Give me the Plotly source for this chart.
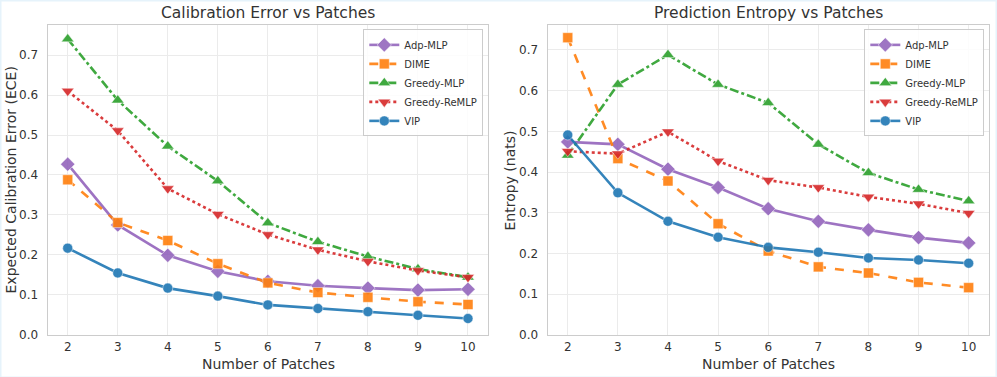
import plotly.graph_objects as go

patches = [2, 3, 4, 5, 6, 7, 8, 9, 10]
methods = ["Adp-MLP", "DIME", "Greedy-MLP", "Greedy-ReMLP", "VIP"]

ece_adp_mlp = [0.427, 0.275, 0.199, 0.159, 0.134, 0.123, 0.117, 0.112, 0.114]
ece_dime = [0.388, 0.281, 0.236, 0.178, 0.130, 0.106, 0.094, 0.083, 0.076]
ece_greedy_mlp = [0.740, 0.587, 0.472, 0.385, 0.280, 0.233, 0.196, 0.165, 0.144]
ece_greedy_remlp = [0.610, 0.511, 0.366, 0.302, 0.251, 0.213, 0.184, 0.161, 0.144]
ece_vip = [0.217, 0.155, 0.117, 0.097, 0.075, 0.066, 0.058, 0.049, 0.041]

ent_adp_mlp = [0.474, 0.468, 0.407, 0.362, 0.310, 0.279, 0.258, 0.239, 0.226]
ent_dime = [0.730, 0.433, 0.378, 0.273, 0.206, 0.167, 0.152, 0.129, 0.116]
ent_greedy_mlp = [0.441, 0.615, 0.688, 0.615, 0.570, 0.468, 0.398, 0.357, 0.329]
ent_greedy_remlp = [0.451, 0.445, 0.499, 0.427, 0.380, 0.362, 0.339, 0.322, 0.299]
ent_vip = [0.491, 0.349, 0.279, 0.240, 0.215, 0.203, 0.189, 0.184, 0.176]

colors = ["#9467bd", "#ff7f0e", "#2ca02c", "#d62728", "#1f77b4"]
symbols = ["diamond", "square", "triangle-up", "triangle-down", "circle"]
dashes = ["solid", "dash", "dashdot", "dot", "solid"]
sizes = [11, 10, 11, 11, 10]

W = 997
H_REF = 377      # reference picture height (positions below are in its pixels)
H_FIG = 385      # the captured page is 385px tall and is squeezed to 377
FONT = "DejaVu Sans"
TXT = "#333333"

fig = go.Figure()

ece_series = [ece_adp_mlp, ece_dime, ece_greedy_mlp, ece_greedy_remlp, ece_vip]
ent_series = [ent_adp_mlp, ent_dime, ent_greedy_mlp, ent_greedy_remlp, ent_vip]

for i, name in enumerate(methods):
    fig.add_trace(go.Scatter(
        x=patches, y=ece_series[i], name=name, mode="lines+markers",
        line=dict(color=colors[i], width=2.6, dash=dashes[i]),
        marker=dict(symbol=symbols[i], size=sizes[i], color=colors[i],
                    line=dict(width=0.8, color="rgba(255,255,255,0.6)")),
        opacity=0.9, xaxis="x", yaxis="y", legend="legend"))
for i, name in enumerate(methods):
    fig.add_trace(go.Scatter(
        x=patches, y=ent_series[i], name=name, mode="lines+markers",
        line=dict(color=colors[i], width=2.6, dash=dashes[i]),
        marker=dict(symbol=symbols[i], size=sizes[i], color=colors[i],
                    line=dict(width=0.8, color="rgba(255,255,255,0.6)")),
        opacity=0.9, xaxis="x2", yaxis="y2", legend="legend2"))

def px_x(p):
    return p / W

def px_y(p):
    return 1 - p / H_REF

axis_common = dict(
    showgrid=True, gridcolor="#ebebeb", gridwidth=1,
    showline=True, linecolor="#cccccc", linewidth=1.2, mirror=True,
    zeroline=False, ticks="", tickfont=dict(family=FONT, size=12, color=TXT),
)

ydom = [px_y(334), px_y(25)]
fig.update_layout(
    width=W, height=H_FIG,
    margin=dict(l=0, r=0, t=0, b=0),
    paper_bgcolor="white", plot_bgcolor="white",
    font=dict(family=FONT, color=TXT),
    xaxis=dict(domain=[px_x(47.7), px_x(488)], range=[1.6, 10.4],
               tickvals=patches, ticklabelstandoff=1, **axis_common),
    yaxis=dict(domain=ydom, range=[0, 0.775], tickvals=[0, 0.1, 0.2, 0.3, 0.4, 0.5, 0.6, 0.7],
               tickformat=".1f", ticklabelstandoff=6, anchor="x", **axis_common),
    xaxis2=dict(domain=[px_x(547.7), px_x(988.7)], range=[1.6, 10.4],
                tickvals=patches, anchor="y2", ticklabelstandoff=1, **axis_common),
    yaxis2=dict(domain=ydom, range=[0, 0.761], tickvals=[0, 0.1, 0.2, 0.3, 0.4, 0.5, 0.6, 0.7],
                tickformat=".1f", anchor="x2", ticklabelstandoff=6, **axis_common),
    legend=dict(x=px_x(483.3), y=px_y(29.3), xanchor="right", yanchor="top",
                bgcolor="rgba(255,255,255,0.85)", bordercolor="#cccccc", borderwidth=1,
                font=dict(family=FONT, size=10, color=TXT), itemwidth=30, tracegroupgap=0),
    legend2=dict(x=px_x(984.3), y=px_y(29.3), xanchor="right", yanchor="top",
                 bgcolor="rgba(255,255,255,0.85)", bordercolor="#cccccc", borderwidth=1,
                 font=dict(family=FONT, size=10, color=TXT), itemwidth=30, tracegroupgap=0),
    showlegend=True,
)

annots = [
    dict(text="Calibration Error vs Patches", x=px_x(268), y=px_y(13), size=15.5),
    dict(text="Prediction Entropy vs Patches", x=px_x(768), y=px_y(13), size=15.5),
    dict(text="Number of Patches", x=px_x(268), y=px_y(363), size=14),
    dict(text="Number of Patches", x=px_x(768), y=px_y(363), size=14),
]
for a in annots:
    fig.add_annotation(text=a["text"], x=a["x"], y=a["y"], xref="paper", yref="paper",
                       xanchor="center", yanchor="middle", showarrow=False,
                       font=dict(family=FONT, size=a["size"], color=TXT))
fig.add_annotation(text="Expected Calibration Error (ECE)", x=px_x(11), y=px_y(180),
                   xref="paper", yref="paper", xanchor="center", yanchor="middle",
                   showarrow=False, textangle=-90, font=dict(family=FONT, size=14, color=TXT))
fig.add_annotation(text="Entropy (nats)", x=px_x(510), y=px_y(180),
                   xref="paper", yref="paper", xanchor="center", yanchor="middle",
                   showarrow=False, textangle=-90, font=dict(family=FONT, size=14, color=TXT))

fig.add_shape(type="rect", xref="paper", yref="paper", x0=0, x1=1, y0=0, y1=1,
              line=dict(color="#e6f3fb", width=3), fillcolor="rgba(0,0,0,0)", layer="below")

fig.write_html("out.html", config={"displayModeBar": False},
               post_script="document.body.style.margin='0';document.body.style.padding='0';")
